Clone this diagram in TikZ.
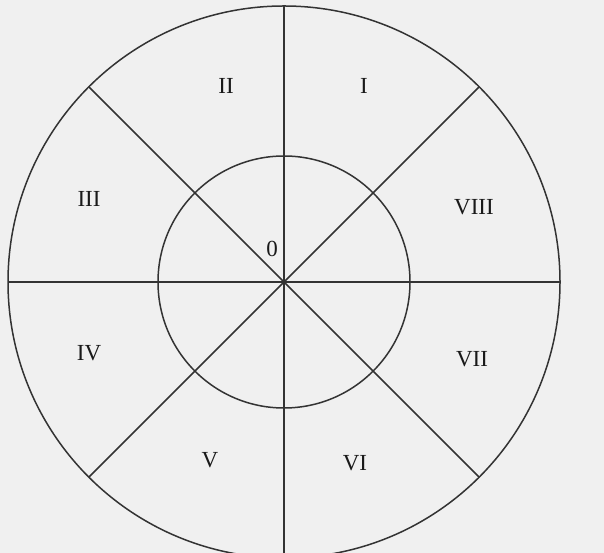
\documentclass[tikz,border=0pt]{standalone}
\usepackage{fontspec}
\setmainfont{Liberation Serif}
\usetikzlibrary{calc}
\begin{document}
\begin{tikzpicture}[x=1pt,y=1pt,
  ln/.style={draw=black!80,line width=1.5pt},
  lab/.style={font=\fontsize{23}{23}\selectfont,text=black!90,inner sep=0pt}]
\useasboundingbox (0,0) rectangle (604,553);
\fill[black!6] (0,0) rectangle (604,553);
\begin{scope}
\clip (0,0) rectangle (604,553);
\coordinate (c) at (284,271);
\draw[ln] (c) circle[radius=276];
\draw[ln] (c) circle[radius=126];
\coordinate (top) at (284,548);
\coordinate (bot) at (284,0);
\coordinate (lft) at (8,271);
\coordinate (rgt) at (560,271);
\coordinate (ne) at ($(c)+(45:276)$);
\coordinate (nw) at ($(c)+(135:276)$);
\coordinate (sw) at ($(c)+(225:276)$);
\coordinate (se) at ($(c)+(315:276)$);
\draw[ln] (top) -- (bot);
\draw[ln] (lft) -- (rgt);
\draw[ln] (ne) -- (sw);
\draw[ln] (nw) -- (se);
\end{scope}
\node[lab] (l1) at (364,467) {I};
\node[lab] (l2) at (226,467) {II};
\node[lab] (l3) at (89,354) {III};
\node[lab] (l4) at (89,200) {IV};
\node[lab] (l5) at (210,93) {V};
\node[lab] (l6) at (355,90) {VI};
\node[lab] (l7) at (472,194) {VII};
\node[lab] (l8) at (474,346) {VIII};
\node[lab] (l0) at (272,304) {0};
\end{tikzpicture}
\end{document}
